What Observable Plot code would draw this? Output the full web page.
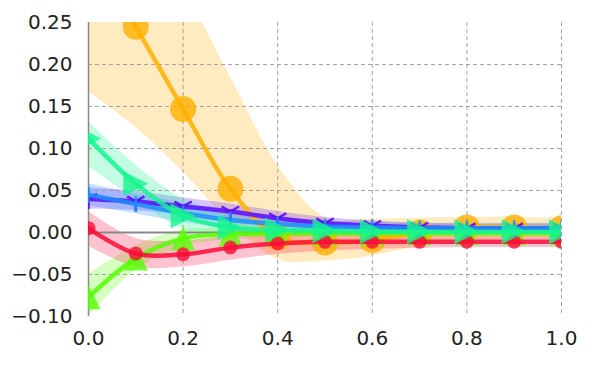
<!DOCTYPE html>
<html><head><meta charset="utf-8">
<script src="https://cdn.jsdelivr.net/npm/d3@7"></script>
<script src="https://cdn.jsdelivr.net/npm/@observablehq/plot@0.6"></script>
<style>body{margin:0;background:#fff} #chart{width:600px;height:375px}</style>
</head><body><div id="chart"></div>
<script>
const xs = [0, 0.1, 0.2, 0.3, 0.4, 0.5, 0.6, 0.7, 0.8, 0.9, 1.0];
const xTicks = [0, 0.2, 0.4, 0.6, 0.8, 1.0];
const yTicks = [-0.1, -0.05, 0, 0.05, 0.1, 0.15, 0.2, 0.25];

const orangeMean = [0.34, 0.245, 0.147, 0.052, -0.006, -0.012, -0.009, 0.0, 0.006, 0.006, 0.005];
const orangeLo   = [0.168, 0.125, 0.072, 0.012, -0.032, -0.034, -0.028, -0.016, -0.01, -0.008, -0.008];
const orangeHi   = [0.52, 0.37, 0.29, 0.185, 0.08, 0.018, 0.016, 0.017, 0.018, 0.018, 0.017];

const limeMean = [-0.077, -0.031, -0.007, -0.002, -0.001, -0.001, -0.001, -0.001, -0.001, -0.001, -0.001];
const limeLo   = [-0.1, -0.045, -0.017, -0.009, -0.006, -0.005, -0.005, -0.005, -0.005, -0.005, -0.005];
const limeHi   = [-0.05, -0.016, 0.003, 0.004, 0.004, 0.003, 0.003, 0.003, 0.003, 0.003, 0.003];

const redMean = [0.005, -0.025, -0.026, -0.018, -0.013, -0.011, -0.011, -0.011, -0.011, -0.011, -0.011];
const redLo   = [-0.016, -0.041, -0.041, -0.033, -0.026, -0.022, -0.02, -0.019, -0.018, -0.018, -0.018];
const redHi   = [0.025, -0.007, -0.01, -0.004, 0.0, -0.001, -0.002, -0.003, -0.004, -0.004, -0.004];

const springMean = [0.112, 0.058, 0.02, 0.006, 0.003, 0.002, 0.001, 0.001, 0.001, 0.001, 0.001];
const springLo   = [0.078, 0.04, 0.004, -0.004, -0.003, -0.003, -0.003, -0.003, -0.003, -0.003, -0.003];
const springHi   = [0.132, 0.08, 0.04, 0.02, 0.012, 0.008, 0.006, 0.005, 0.005, 0.005, 0.005];

const purpleMean = [0.04, 0.037, 0.031, 0.025, 0.017, 0.011, 0.008, 0.006, 0.005, 0.005, 0.005];
const purpleLo   = [0.028, 0.026, 0.021, 0.016, 0.01, 0.005, 0.003, 0.001, 0.0, 0.0, 0.0];
const purpleHi   = [0.053, 0.049, 0.041, 0.034, 0.025, 0.018, 0.014, 0.011, 0.01, 0.01, 0.01];

const blueMean = [0.045, 0.034, 0.023, 0.015, 0.01, 0.007, 0.006, 0.005, 0.005, 0.005, 0.005];
const blueLo   = [0.032, 0.022, 0.012, 0.005, 0.001, -0.001, -0.002, -0.002, -0.002, -0.002, -0.002];
const blueHi   = [0.058, 0.046, 0.035, 0.025, 0.018, 0.014, 0.012, 0.011, 0.011, 0.011, 0.011];

// custom marker shapes
const rOf = s => Math.sqrt(s / Math.PI);
const triUp = {draw(c, s){ const h = rOf(s); c.moveTo(0,-h); c.lineTo(h,h); c.lineTo(-h,h); c.closePath(); }};
const triRight = {draw(c, s){ const h = rOf(s); c.moveTo(h,0); c.lineTo(-h,h); c.lineTo(-h,-h); c.closePath(); }};
const triDownSpokes = {draw(c, s){ const h = rOf(s);
  c.moveTo(0,0); c.lineTo(0,h);
  c.moveTo(0,0); c.lineTo(-0.866*h,-0.5*h);
  c.moveTo(0,0); c.lineTo(0.866*h,-0.5*h); }};
const vLine = {draw(c, s){ const h = rOf(s); c.moveTo(0,-h); c.lineTo(0,h); }};

const series = [
  {mean: orangeMean, lo: orangeLo, hi: orangeHi, color: "#ffb000", symbol: "circle", r: 13, kind: "fill"},
  {mean: limeMean, lo: limeLo, hi: limeHi, color: "#55ff00", symbol: triUp, r: 12, kind: "fill"},
  {mean: redMean, lo: redLo, hi: redHi, color: "#ff0a3a", symbol: "circle", r: 7, kind: "fill"},
  {mean: purpleMean, lo: purpleLo, hi: purpleHi, color: "#5c0aff", symbol: triDownSpokes, r: 10, kind: "stroke"},
  {mean: blueMean, lo: blueLo, hi: blueHi, color: "#1a8cff", symbol: vLine, r: 8, kind: "stroke"},
  {mean: springMean, lo: springLo, hi: springHi, color: "#14f590", symbol: triRight, r: 12.5, kind: "fill"}
];
const tables = series.map(s => xs.map((x, i) => ({x, y: s.mean[i], lo: s.lo[i], hi: s.hi[i]})));

const marks = [];
series.forEach((s, k) => {
  marks.push(Plot.areaY(tables[k], {x: "x", y1: "lo", y2: "hi", fill: s.color, fillOpacity: 0.25, curve: "catmull-rom", clip: true}));
});
marks.push(Plot.gridX(xTicks.slice(1), {stroke: "#999", strokeOpacity: 0.9, strokeDasharray: "4,3", strokeWidth: 1}));
marks.push(Plot.gridY(yTicks.slice(1, -1), {stroke: "#999", strokeOpacity: 0.9, strokeDasharray: "4,3", strokeWidth: 1}));
marks.push(Plot.ruleY([0], {stroke: "#888", strokeWidth: 2}));
marks.push(Plot.ruleX([0], {stroke: "#888", strokeWidth: 1.5}));
series.forEach((s, k) => {
  marks.push(Plot.line(tables[k], {x: "x", y: "y", stroke: s.color, strokeWidth: 4.5, strokeOpacity: 0.85, curve: "catmull-rom", clip: true}));
  if (s.kind === "fill") {
    marks.push(Plot.dot(tables[k], {x: "x", y: "y", symbol: () => s.symbol, r: s.r, fill: s.color, fillOpacity: 0.8, stroke: "none", clip: true}));
  } else {
    marks.push(Plot.dot(tables[k], {x: "x", y: "y", symbol: () => s.symbol, r: s.r, fill: "none", stroke: s.color, strokeWidth: 2.5, strokeOpacity: 0.9, clip: true}));
  }
});
marks.push(Plot.axisX(xTicks, {tickSize: 0, tickPadding: 14, tickFormat: d3.format(".1f"), fontSize: 20, label: null}));
marks.push(Plot.axisY(yTicks, {tickSize: 0, tickPadding: 16, tickFormat: d3.format(".2f"), fontSize: 20, label: null}));

const chart = Plot.plot({
  width: 600, height: 375,
  marginLeft: 88, marginRight: 39, marginTop: 22, marginBottom: 59,
  x: {domain: [0, 1], label: null},
  y: {domain: [-0.1, 0.25], label: null},
  symbol: {type: "identity"},
  style: {fontFamily: "DejaVu Sans", fontSize: "20px", color: "#222", background: "#fff"},
  marks
});
document.getElementById("chart").appendChild(chart);
</script>
</body></html>
